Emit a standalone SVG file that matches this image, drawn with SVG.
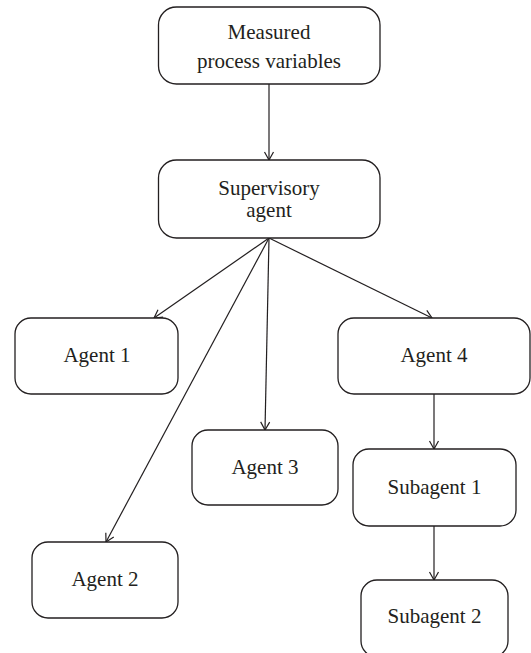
<svg xmlns="http://www.w3.org/2000/svg" width="531" height="653" viewBox="0 0 531 653">
<style>
.box{fill:#ffffff;stroke:#231f20;stroke-width:1.3}
.lbl{font-family:"Liberation Serif","Times New Roman",serif;font-size:21px;fill:#231f20;text-anchor:middle}
.edge{stroke:#231f20;stroke-width:1.2;fill:none;marker-end:url(#arr)}
</style>
<defs>
<marker id="arr" markerUnits="userSpaceOnUse" markerWidth="12" markerHeight="12" refX="10" refY="6" orient="auto">
<path d="M2,1.5 L10,6 L2,10.5" fill="none" stroke="#231f20" stroke-width="1.2"/>
</marker>
</defs>
<rect width="531" height="653" fill="#ffffff"/>
<g id="connectors">
<line class="edge" x1="269" y1="84" x2="269" y2="160"/>
<line class="edge" x1="269" y1="238" x2="154" y2="318"/>
<line class="edge" x1="269" y1="238" x2="106" y2="542"/>
<line class="edge" x1="269" y1="238" x2="265" y2="430"/>
<line class="edge" x1="269" y1="238" x2="432" y2="318"/>
<line class="edge" x1="434" y1="394" x2="434" y2="449"/>
<line class="edge" x1="434" y1="526" x2="434" y2="580"/>
</g>
<g id="measured">
<rect class="box" x="158.5" y="7" width="221.5" height="77" rx="18"/>
<text class="lbl" x="269" y="39">Measured</text>
<text class="lbl" x="269" y="68">process variables</text>
</g>
<g id="supervisory">
<rect class="box" x="158.5" y="160" width="221.5" height="78" rx="18"/>
<text class="lbl" x="269" y="195">Supervisory</text>
<text class="lbl" x="269" y="217">agent</text>
</g>
<g id="agent1">
<rect class="box" x="15" y="318" width="163" height="76" rx="16"/>
<text class="lbl" x="97" y="362">Agent 1</text>
</g>
<g id="agent4">
<rect class="box" x="338" y="318" width="192" height="76" rx="16"/>
<text class="lbl" x="434" y="362">Agent 4</text>
</g>
<g id="agent3">
<rect class="box" x="192" y="430" width="146" height="75" rx="16"/>
<text class="lbl" x="265" y="474">Agent 3</text>
</g>
<g id="subagent1">
<rect class="box" x="353" y="449" width="163" height="77" rx="16"/>
<text class="lbl" x="434.5" y="494">Subagent 1</text>
</g>
<g id="agent2">
<rect class="box" x="32" y="542" width="146" height="76" rx="16"/>
<text class="lbl" x="105" y="586">Agent 2</text>
</g>
<g id="subagent2">
<rect class="box" x="361" y="580" width="147" height="77" rx="16"/>
<text class="lbl" x="434.5" y="623">Subagent 2</text>
</g>
</svg>
